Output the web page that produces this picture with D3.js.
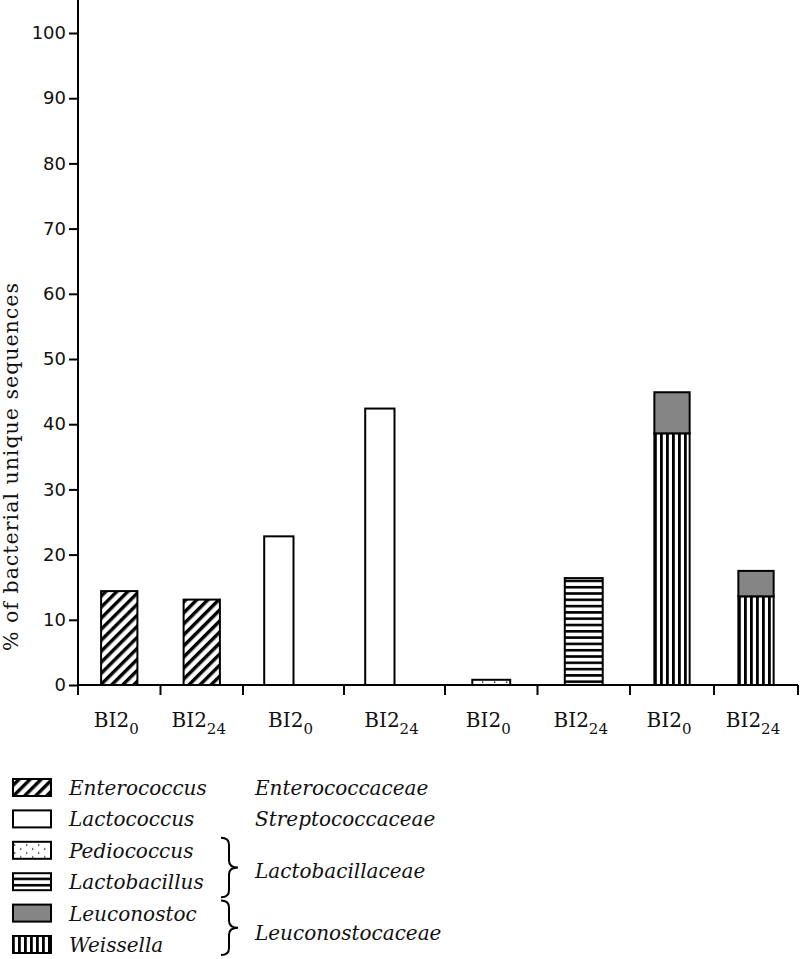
<!DOCTYPE html>
<html>
<head>
<meta charset="utf-8">
<script src="https://cdn.jsdelivr.net/npm/d3@7"></script>
<style>
  html, body { margin: 0; padding: 0; background: #fff; }
  svg { display: block; }
</style>
</head>
<body>
<svg id="chart" width="800" height="959"></svg>
<script>
// ---------------- DATA ----------------
const timepoints = ["BI2_0", "BI2_24"];
const timeLabels = [["BI2", "0"], ["BI2", "24"]];
const yTicks = [0, 10, 20, 30, 40, 50, 60, 70, 80, 90, 100];

const genera = ["Enterococcus", "Lactococcus", "Pediococcus", "Lactobacillus", "Leuconostoc", "Weissella"];
const families = ["Enterococcaceae", "Streptococcaceae", "Lactobacillaceae", "Leuconostocaceae"];
const familyMembers = [["Enterococcus"], ["Lactococcus"], ["Pediococcus", "Lactobacillus"], ["Leuconostoc", "Weissella"]];

// % of bacterial unique sequences, per genus, for [BI2_0, BI2_24]
const enterococcus  = [14.4, 13.1];
const lactococcus   = [22.8, 42.4];
const pediococcus   = [0.8, 0];
const lactobacillus = [0, 16.4];
const weissella     = [38.6, 13.6];
const leuconostoc   = [6.3, 3.9];

// panels (one per family), stack order bottom -> top
const panelStacks = [["Enterococcus"], ["Lactococcus"], ["Pediococcus", "Lactobacillus"], ["Weissella", "Leuconostoc"]];
const valuesByGenus = {
  Enterococcus: enterococcus, Lactococcus: lactococcus, Pediococcus: pediococcus,
  Lactobacillus: lactobacillus, Weissella: weissella, Leuconostoc: leuconostoc
};

// ---------------- LAYOUT ----------------
const svg = d3.select("#chart");
const axisX = 78, baseY = 685;
const panelEdges = [78, 243, 445, 630, 798];
const panelBarFrac = [0.44, 0.29, 0.41, 0.42];   // bar width / band width
const panelSlots = [1, 2, 1, 1];                  // sub-slots per band (panel 2 is a 2-slot group)

const serif = "'DejaVu Serif', 'Liberation Serif', serif";
const sans = "'DejaVu Sans', Verdana, sans-serif";

// patterns
const defs = svg.append("defs");
const diag = defs.append("pattern").attr("id", "p-diag").attr("patternUnits", "userSpaceOnUse")
  .attr("width", 7.8).attr("height", 7.8).attr("patternTransform", "rotate(45)");
diag.append("rect").attr("width", 7.8).attr("height", 7.8).attr("fill", "#fff");
diag.append("rect").attr("width", 3.4).attr("height", 7.8).attr("fill", "#000");

const horiz = defs.append("pattern").attr("id", "p-horiz").attr("patternUnits", "userSpaceOnUse")
  .attr("width", 10).attr("height", 6.3);
horiz.append("rect").attr("width", 10).attr("height", 6.3).attr("fill", "#fff");
horiz.append("rect").attr("width", 10).attr("height", 2.6).attr("fill", "#000");

const vert = defs.append("pattern").attr("id", "p-vert").attr("patternUnits", "userSpaceOnUse")
  .attr("width", 6).attr("height", 10);
vert.append("rect").attr("width", 6).attr("height", 10).attr("fill", "#fff");
vert.append("rect").attr("width", 2.8).attr("height", 10).attr("fill", "#000");

const dots = defs.append("pattern").attr("id", "p-dots").attr("patternUnits", "userSpaceOnUse")
  .attr("width", 12).attr("height", 8);
dots.append("rect").attr("width", 12).attr("height", 8).attr("fill", "#fff");
dots.append("rect").attr("x", 2).attr("y", 1.5).attr("width", 1.3).attr("height", 1.3).attr("fill", "#000");
dots.append("rect").attr("x", 8).attr("y", 5.5).attr("width", 1.3).attr("height", 1.3).attr("fill", "#000");

const fillByGenus = {
  Enterococcus: "url(#p-diag)", Lactococcus: "#fff", Pediococcus: "url(#p-dots)",
  Lactobacillus: "url(#p-horiz)", Leuconostoc: "#858585", Weissella: "url(#p-vert)"
};

// scales
const y = d3.scaleLinear().domain([0, 100]).range([baseY, 33]);

// y axis
const yAxis = d3.axisLeft(y).tickValues(yTicks).tickSize(9).tickSizeOuter(0).tickPadding(3);
const gy = svg.append("g").attr("transform", `translate(${axisX},0)`).call(yAxis);
gy.select(".domain").remove();
gy.selectAll(".tick line").attr("stroke", "#000").attr("stroke-width", 2);
gy.selectAll(".tick text").attr("font-family", sans).attr("font-size", 18).attr("fill", "#111");
svg.append("line").attr("x1", axisX).attr("x2", axisX).attr("y1", 0).attr("y2", baseY + 1)
  .attr("stroke", "#000").attr("stroke-width", 2);

// y label
svg.append("text").attr("transform", `translate(18,467) rotate(-90)`)
  .attr("text-anchor", "middle").attr("font-family", serif).attr("font-size", 20.5).attr("fill", "#111")
  .attr("textLength", 368).attr("lengthAdjust", "spacing")
  .text("% of bacterial unique sequences");

// x axis baseline
svg.append("line").attr("x1", axisX).attr("x2", panelEdges[panelEdges.length - 1]).attr("y1", baseY).attr("y2", baseY)
  .attr("stroke", "#000").attr("stroke-width", 2);

// panels
panelStacks.forEach((keys, pi) => {
  const x = d3.scaleBand().domain(timepoints).range([panelEdges[pi], panelEdges[pi + 1]]).padding(0);
  const g = svg.append("g");

  // tick marks at band edges
  const edges = timepoints.map(t => x(t)).concat([panelEdges[pi + 1]]);
  g.selectAll("line.xt").data(edges).join("line").attr("class", "xt")
    .attr("x1", d => d).attr("x2", d => d).attr("y1", baseY).attr("y2", baseY + 10)
    .attr("stroke", "#000").attr("stroke-width", 2);

  // bars
  const table = timepoints.map((t, i) => {
    const row = { t };
    keys.forEach(k => row[k] = valuesByGenus[k][i]);
    return row;
  });
  const series = d3.stack().keys(keys)(table);
  const bw = x.bandwidth() * panelBarFrac[pi];
  const slot = d3.scaleBand().domain(d3.range(panelSlots[pi])).range([-bw * panelSlots[pi] / 2, bw * panelSlots[pi] / 2]);
  series.forEach(s => {
    g.selectAll(null).data(s.filter(d => d[1] - d[0] > 0)).join("rect")
      .attr("x", d => x(d.data.t) + x.bandwidth() / 2 + slot(0))
      .attr("width", slot.bandwidth())
      .attr("y", d => y(d[1]))
      .attr("height", d => y(d[0]) - y(d[1]))
      .attr("fill", fillByGenus[s.key])
      .attr("stroke", "#000").attr("stroke-width", 2);
  });

  // category labels
  const lab = g.selectAll("text.xl").data(timepoints).join("text").attr("class", "xl")
    .attr("x", d => x(d) + x.bandwidth() / 2 - 3).attr("y", 727)
    .attr("text-anchor", "middle").attr("font-family", serif).attr("font-size", 20).attr("fill", "#111");
  lab.append("tspan").text((d, i) => timeLabels[i][0]);
  lab.append("tspan").attr("dy", 7).attr("font-size", 15).text((d, i) => timeLabels[i][1]);
});

// legend
const legY0 = 796, legStep = 31.4;
const leg = svg.append("g");
const rows = leg.selectAll("g").data(genera).join("g")
  .attr("transform", (d, i) => `translate(0,${legY0 + i * legStep})`);
rows.append("rect").attr("x", 13).attr("y", -17).attr("width", 38).attr("height", 17)
  .attr("fill", d => fillByGenus[d]).attr("stroke", "#000").attr("stroke-width", 2);
rows.append("text").attr("x", 69).attr("y", -1).attr("font-family", serif).attr("font-style", "italic")
  .attr("font-size", 20).attr("fill", "#111").text(d => d);

// family labels and braces
families.forEach((f, fi) => {
  const members = familyMembers[fi];
  const idx = members.map(g => genera.indexOf(g));
  const yc = legY0 + d3.mean(idx) * legStep;
  const multi = members.length > 1;
  leg.append("text").attr("x", 255).attr("y", multi ? yc + 3 : yc - 1)
    .attr("font-family", serif).attr("font-style", "italic").attr("font-size", 20).attr("fill", "#111").text(f);
  if (multi) {
    const i0 = d3.min(idx), i1 = d3.max(idx);
    const top = legY0 + i0 * legStep - 21;
    const bot = Math.min(legY0 + i1 * legStep + 7, 955);
    const mid = (top + bot) / 2;
    const xs = 229, x0 = 221, xt = 238, r = 7;
    const p = d3.path();
    p.moveTo(x0, top);
    p.quadraticCurveTo(xs, top, xs, top + r);
    p.lineTo(xs, mid - r);
    p.quadraticCurveTo(xs, mid, xt, mid);
    p.quadraticCurveTo(xs, mid, xs, mid + r);
    p.lineTo(xs, bot - r);
    p.quadraticCurveTo(xs, bot, x0, bot);
    leg.append("path").attr("d", p.toString()).attr("fill", "none").attr("stroke", "#000").attr("stroke-width", 2);
  }
});
</script>
</body>
</html>
